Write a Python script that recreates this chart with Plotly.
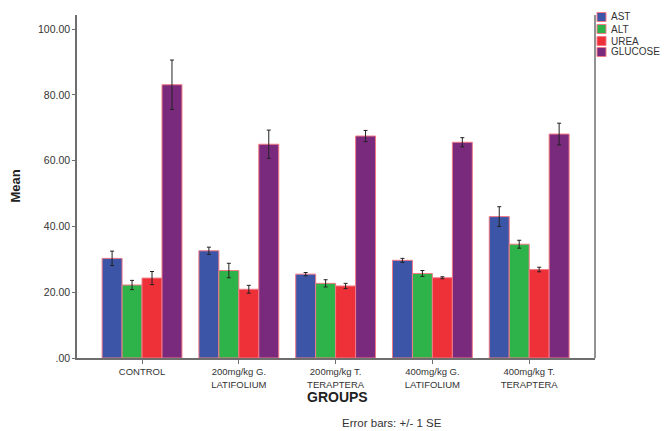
import plotly.graph_objects as go

groups = ["CONTROL", "200mg/kg G.<br>LATIFOLIUM", "200mg/kg T.<br>TERAPTERA",
          "400mg/kg G.<br>LATIFOLIUM", "400mg/kg T.<br>TERAPTERA"]
series_names = ["AST", "ALT", "UREA", "GLUCOSE"]
ast = [30.3, 32.6, 25.5, 29.7, 43.0]
ast_se = [2.2, 1.1, 0.5, 0.6, 3.0]
alt = [22.2, 26.6, 22.7, 25.7, 34.6]
alt_se = [1.4, 2.2, 1.1, 0.9, 1.2]
urea = [24.3, 20.9, 21.9, 24.4, 26.9]
urea_se = [2.0, 1.2, 0.8, 0.3, 0.7]
glucose = [83.1, 65.0, 67.5, 65.6, 68.1]
glucose_se = [7.5, 4.3, 1.7, 1.4, 3.3]
colors = ["#3D55A6", "#2DB34A", "#EE3038", "#7A2A7D"]
y_ticks = [0, 20, 40, 60, 80, 100]
y_ticktext = [".00", "20.00", "40.00", "60.00", "80.00", "100.00"]

values = [ast, alt, urea, glucose]
errors = [ast_se, alt_se, urea_se, glucose_se]

fig = go.Figure()
x_idx = list(range(len(groups)))
for name, vals, errs, col in zip(series_names, values, errors, colors):
    fig.add_trace(go.Bar(
        x=x_idx, y=vals, name=name,
        marker=dict(color=col, line=dict(color="#F27A86", width=1)),
        error_y=dict(type="data", array=errs, visible=True,
                     color="#222222", thickness=1, width=2),
        showlegend=False,
    ))

fig.update_layout(
    width=664, height=431,
    margin=dict(l=77, r=69, t=15, b=73),
    paper_bgcolor="white", plot_bgcolor="white",
    barmode="group", bargap=0.175, bargroupgap=0,
    font=dict(family="Arial, Liberation Sans, sans-serif", color="#333333"),
    xaxis=dict(
        range=[-0.672, 4.68], tickvals=x_idx, ticktext=groups,
        showline=True, linecolor="#6E6E6E", linewidth=1.5, mirror=False,
        ticks="outside", ticklen=4, tickcolor="#6E6E6E", showgrid=False,
        tickfont=dict(size=9.5, color="#333333"), zeroline=False,
    ),
    yaxis=dict(
        range=[0, 104.3], tickvals=y_ticks, ticktext=y_ticktext,
        showline=True, linecolor="#6E6E6E", linewidth=1.5,
        ticks="outside", ticklen=3, tickcolor="#6E6E6E", showgrid=False,
        tickfont=dict(size=10.5, color="#333333"), zeroline=False,
    ),
    showlegend=False,
)

# right frame line
fig.add_shape(type="line", xref="paper", yref="paper", x0=1, x1=1, y0=0, y1=1,
              line=dict(color="#6E6E6E", width=1.5))

# axis titles and note
fig.add_annotation(text="<b>Mean</b>", xref="paper", yref="paper", x=0, y=0.5,
                   xshift=-62, xanchor="center", yanchor="middle", textangle=-90,
                   showarrow=False, font=dict(size=13, color="#222222"))
fig.add_annotation(text="<b>GROUPS</b>", xref="paper", yref="paper", x=(337 - 77) / 518, y=0,
                   yshift=-39, xanchor="center", yanchor="middle", showarrow=False,
                   font=dict(size=14, color="#222222"))
fig.add_annotation(text="Error bars: +/- 1 SE", xref="paper", yref="paper", x=(392 - 77) / 518,
                   y=0, yshift=-65, xanchor="center", yanchor="middle", showarrow=False,
                   font=dict(size=11.5, color="#333333"))

# manual legend
row_y = [17, 29, 41, 52]
for name, col, py in zip(series_names, colors, row_y):
    fig.add_shape(type="rect", xref="paper", yref="paper",
                  x0=(597 - 77) / 518, x1=(606 - 77) / 518,
                  y0=(358 - py - 4.5) / 343, y1=(358 - py + 4.5) / 343,
                  fillcolor=col, line=dict(color="#F27A86", width=1))
    fig.add_annotation(text=name, xref="paper", yref="paper",
                       x=(609 - 77) / 518, y=(358 - py) / 343, xanchor="left",
                       yanchor="middle", showarrow=False,
                       font=dict(size=10, color="#333333"))

fig.write_html("out.html")
